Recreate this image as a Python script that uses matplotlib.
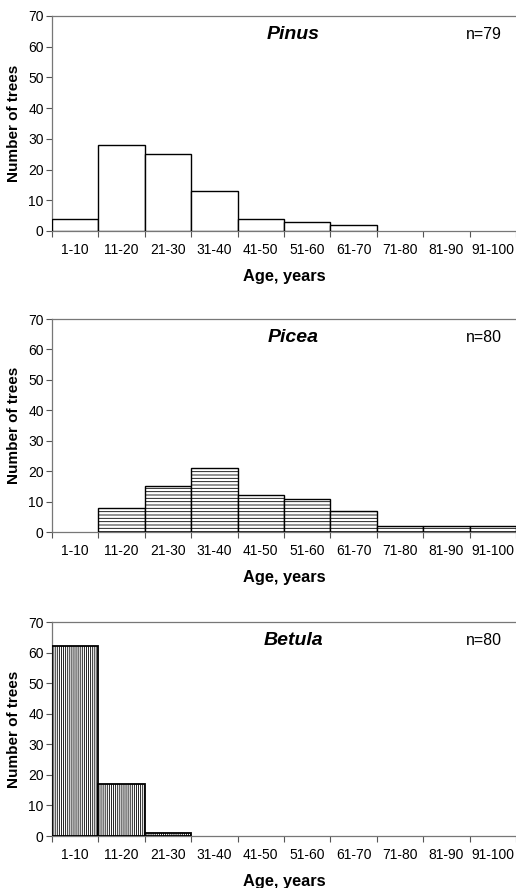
import matplotlib
matplotlib.use("Agg")
import matplotlib.pyplot as plt
import numpy as np

plt.rcParams['font.family'] = ['Liberation Sans', 'DejaVu Sans']
plt.rcParams['hatch.linewidth'] = 0.6

categories = ["1-10", "11-20", "21-30", "31-40", "41-50", "51-60", "61-70", "71-80", "81-90", "91-100"]
pinus = [4, 28, 25, 13, 4, 3, 2, 0, 0, 0]
picea = [0, 8, 15, 21, 12, 11, 7, 2, 2, 2]
betula = [62, 17, 1, 0, 0, 0, 0, 0, 0, 0]
species = ["Pinus", "Picea", "Betula"]
n_labels = ["n=79", "n=80", "n=80"]
series = [pinus, picea, betula]
hatches = [None, "-----", "||||||||"]
edge_lw = [1.0, 1.0, 1.3]

W, H = 516, 888
fig = plt.figure(figsize=(W / 100, H / 100), dpi=100)

# (top px, bottom px) of each panel's plot area
panels = [(16, 231), (319, 532), (622, 836)]
left_px, right_px = 52, 516

x = np.arange(len(categories))
for i, (top, bot) in enumerate(panels):
    ax = fig.add_axes([left_px / W, 1 - bot / H, (right_px - left_px) / W, (bot - top) / H])
    vals = np.array(series[i])
    nz = vals > 0
    ax.bar(x[nz], vals[nz], width=1.0, color="white", edgecolor="black",
           linewidth=edge_lw[i], hatch=hatches[i], zorder=3)
    ax.set_xlim(-0.5, 9.45)
    ax.set_ylim(0, 70)
    ax.set_yticks(np.arange(0, 71, 10))
    ax.set_xticks(x)
    ax.set_xticklabels(categories)
    ax.set_xticks(np.arange(-0.5, 9.6, 1.0), minor=True)
    ax.tick_params(axis="x", which="major", length=0, pad=8.5, labelsize=10)
    ax.tick_params(axis="x", which="minor", length=4, width=0.8, color="#555555", direction="out")
    ax.tick_params(axis="y", length=4, width=0.8, color="#555555", labelsize=10, pad=2)
    for s in ["left", "bottom", "top"]:
        ax.spines[s].set_color("#777777")
        ax.spines[s].set_linewidth(0.9)
    ax.spines["right"].set_visible(False)
    ax.set_ylabel("Number of trees", fontsize=11, fontweight="bold", labelpad=5)
    ax.set_xlabel("Age, years", fontsize=11.8, fontweight="bold", labelpad=9)
    ax.text(0.52, 0.915, species[i], transform=ax.transAxes, ha="center", va="center",
            fontsize=14, fontweight="bold", fontstyle="italic")
    ax.text(0.93, 0.915, n_labels[i], transform=ax.transAxes, ha="center", va="center",
            fontsize=11.5)

fig.savefig("out.png", dpi=100)
